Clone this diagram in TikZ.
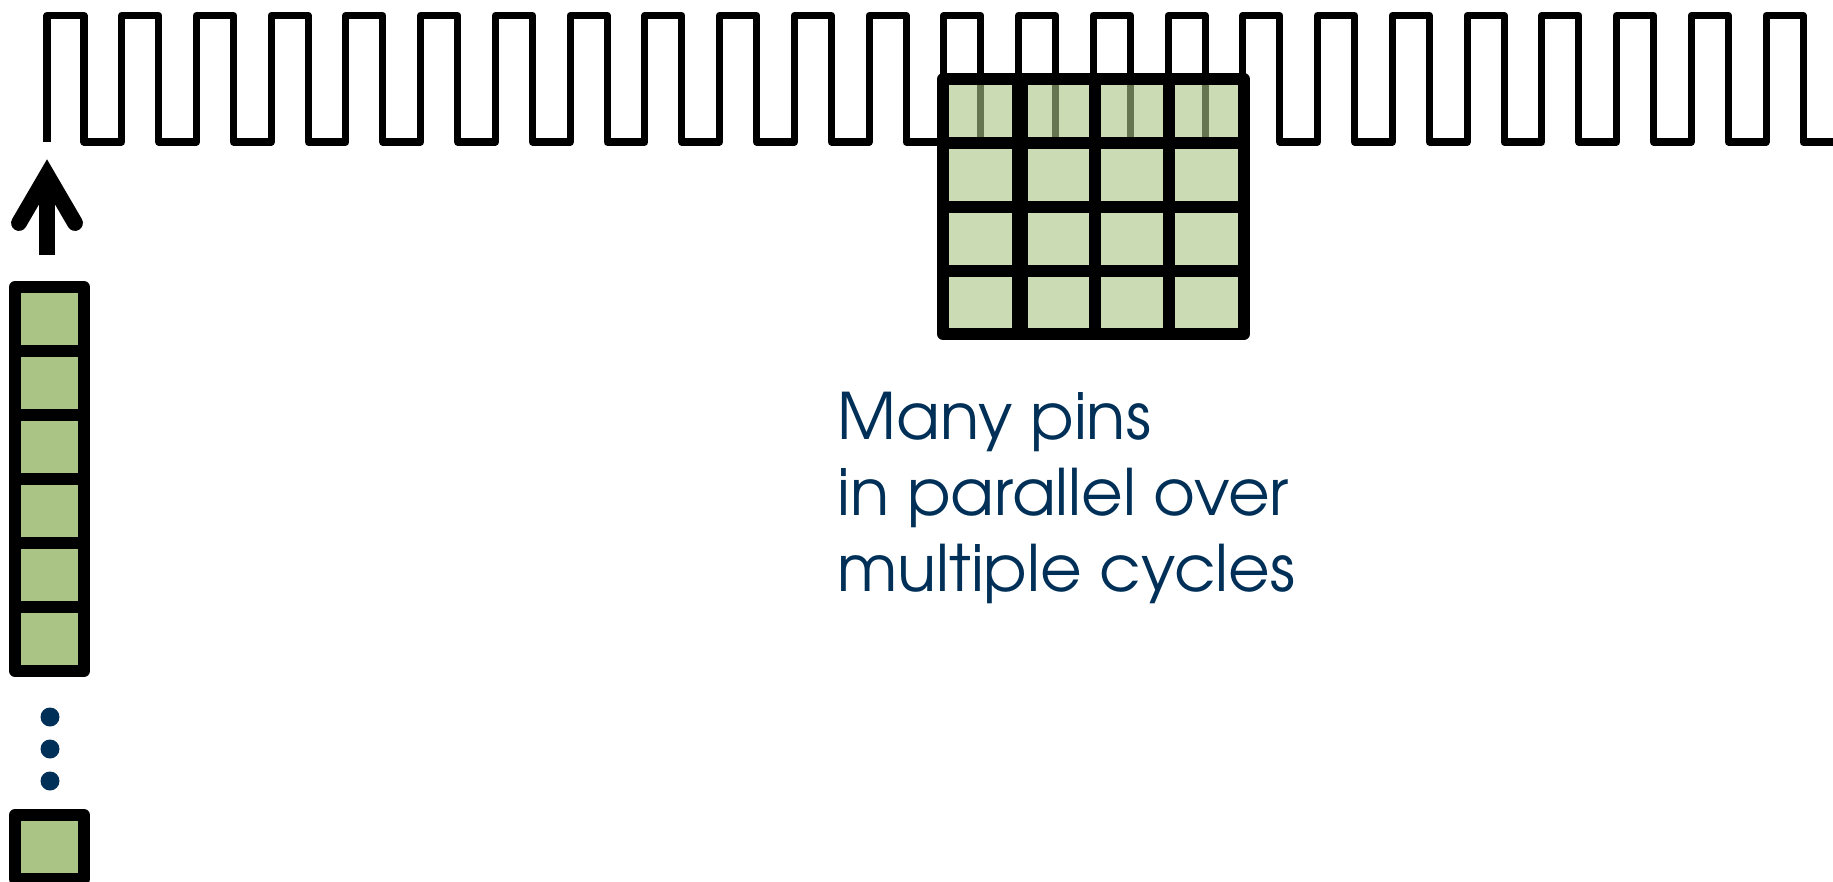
\documentclass[tikz,border=0pt]{standalone}
\usepackage{fontspec}
\setmainfont{texgyreadventor-regular.otf}
\usetikzlibrary{calc}
\definecolor{pingreen}{RGB}{169,196,132}
\definecolor{navy}{RGB}{0,48,87}
\begin{document}
\begin{tikzpicture}[x=0.02cm, y=-0.02cm, line join=round]
	\tikzset{
		clockline/.style={line width=4pt},
		cellline/.style={line width=6.8pt, fill=pingreen},
		gridline/.style={line width=6.8pt},
		upshaft/.style={line width=9pt},
		uphead/.style={line width=9pt, line join=miter, line cap=round},
		pintext/.style={font=\fontsize{36.5}{43.2}\selectfont, text=navy, align=left, inner sep=0pt, anchor=north west}
	}
	\useasboundingbox (0,0) rectangle (1833,882);
	
	% clock
	\draw[clockline] (47,142) \foreach \i in {1,...,24}{ -- ++(0,-126.5) -- ++(37,0) -- ++(0,126.5) -- ++(37.74,0)} -- (1840,142);
	
	% pin grid, see-through over the clock
	\fill[pingreen, fill opacity=0.6] (943,79) rectangle (1244,334);
	\foreach \x in {1095,1169} \draw[gridline] (\x,79) -- (\x,334);
	\draw[gridline, line width=9.6pt] (1020,79) -- (1020,334);
	\foreach \y in {143,207,271} \draw[gridline] (943,\y) -- (1244,\y);
	\draw[gridline] (943,79) rectangle (1244,334);
	
	% serial pin
	\foreach \i in {0,...,5} \draw[cellline] (15,287+64*\i) rectangle (84,351+64*\i);
	\foreach \y in {717,749,781} \fill[navy] (50,\y) circle (9.5);
	\draw[cellline] (15,815) rectangle (84,879);
	
	% arrow
	\coordinate (arrowfoot) at (47,255);
	\coordinate (arrowtip) at (47,175);
	\draw[upshaft] (arrowfoot) -- (arrowtip);
	\draw[uphead] ($(arrowtip)+(-28,48)$) -- (arrowtip) -- ($(arrowtip)+(28,48)$);
	
	\node[pintext] (pinnote) at (837,392) {Many pins\\in parallel over\\multiple cycles};
\end{tikzpicture}
\end{document}
